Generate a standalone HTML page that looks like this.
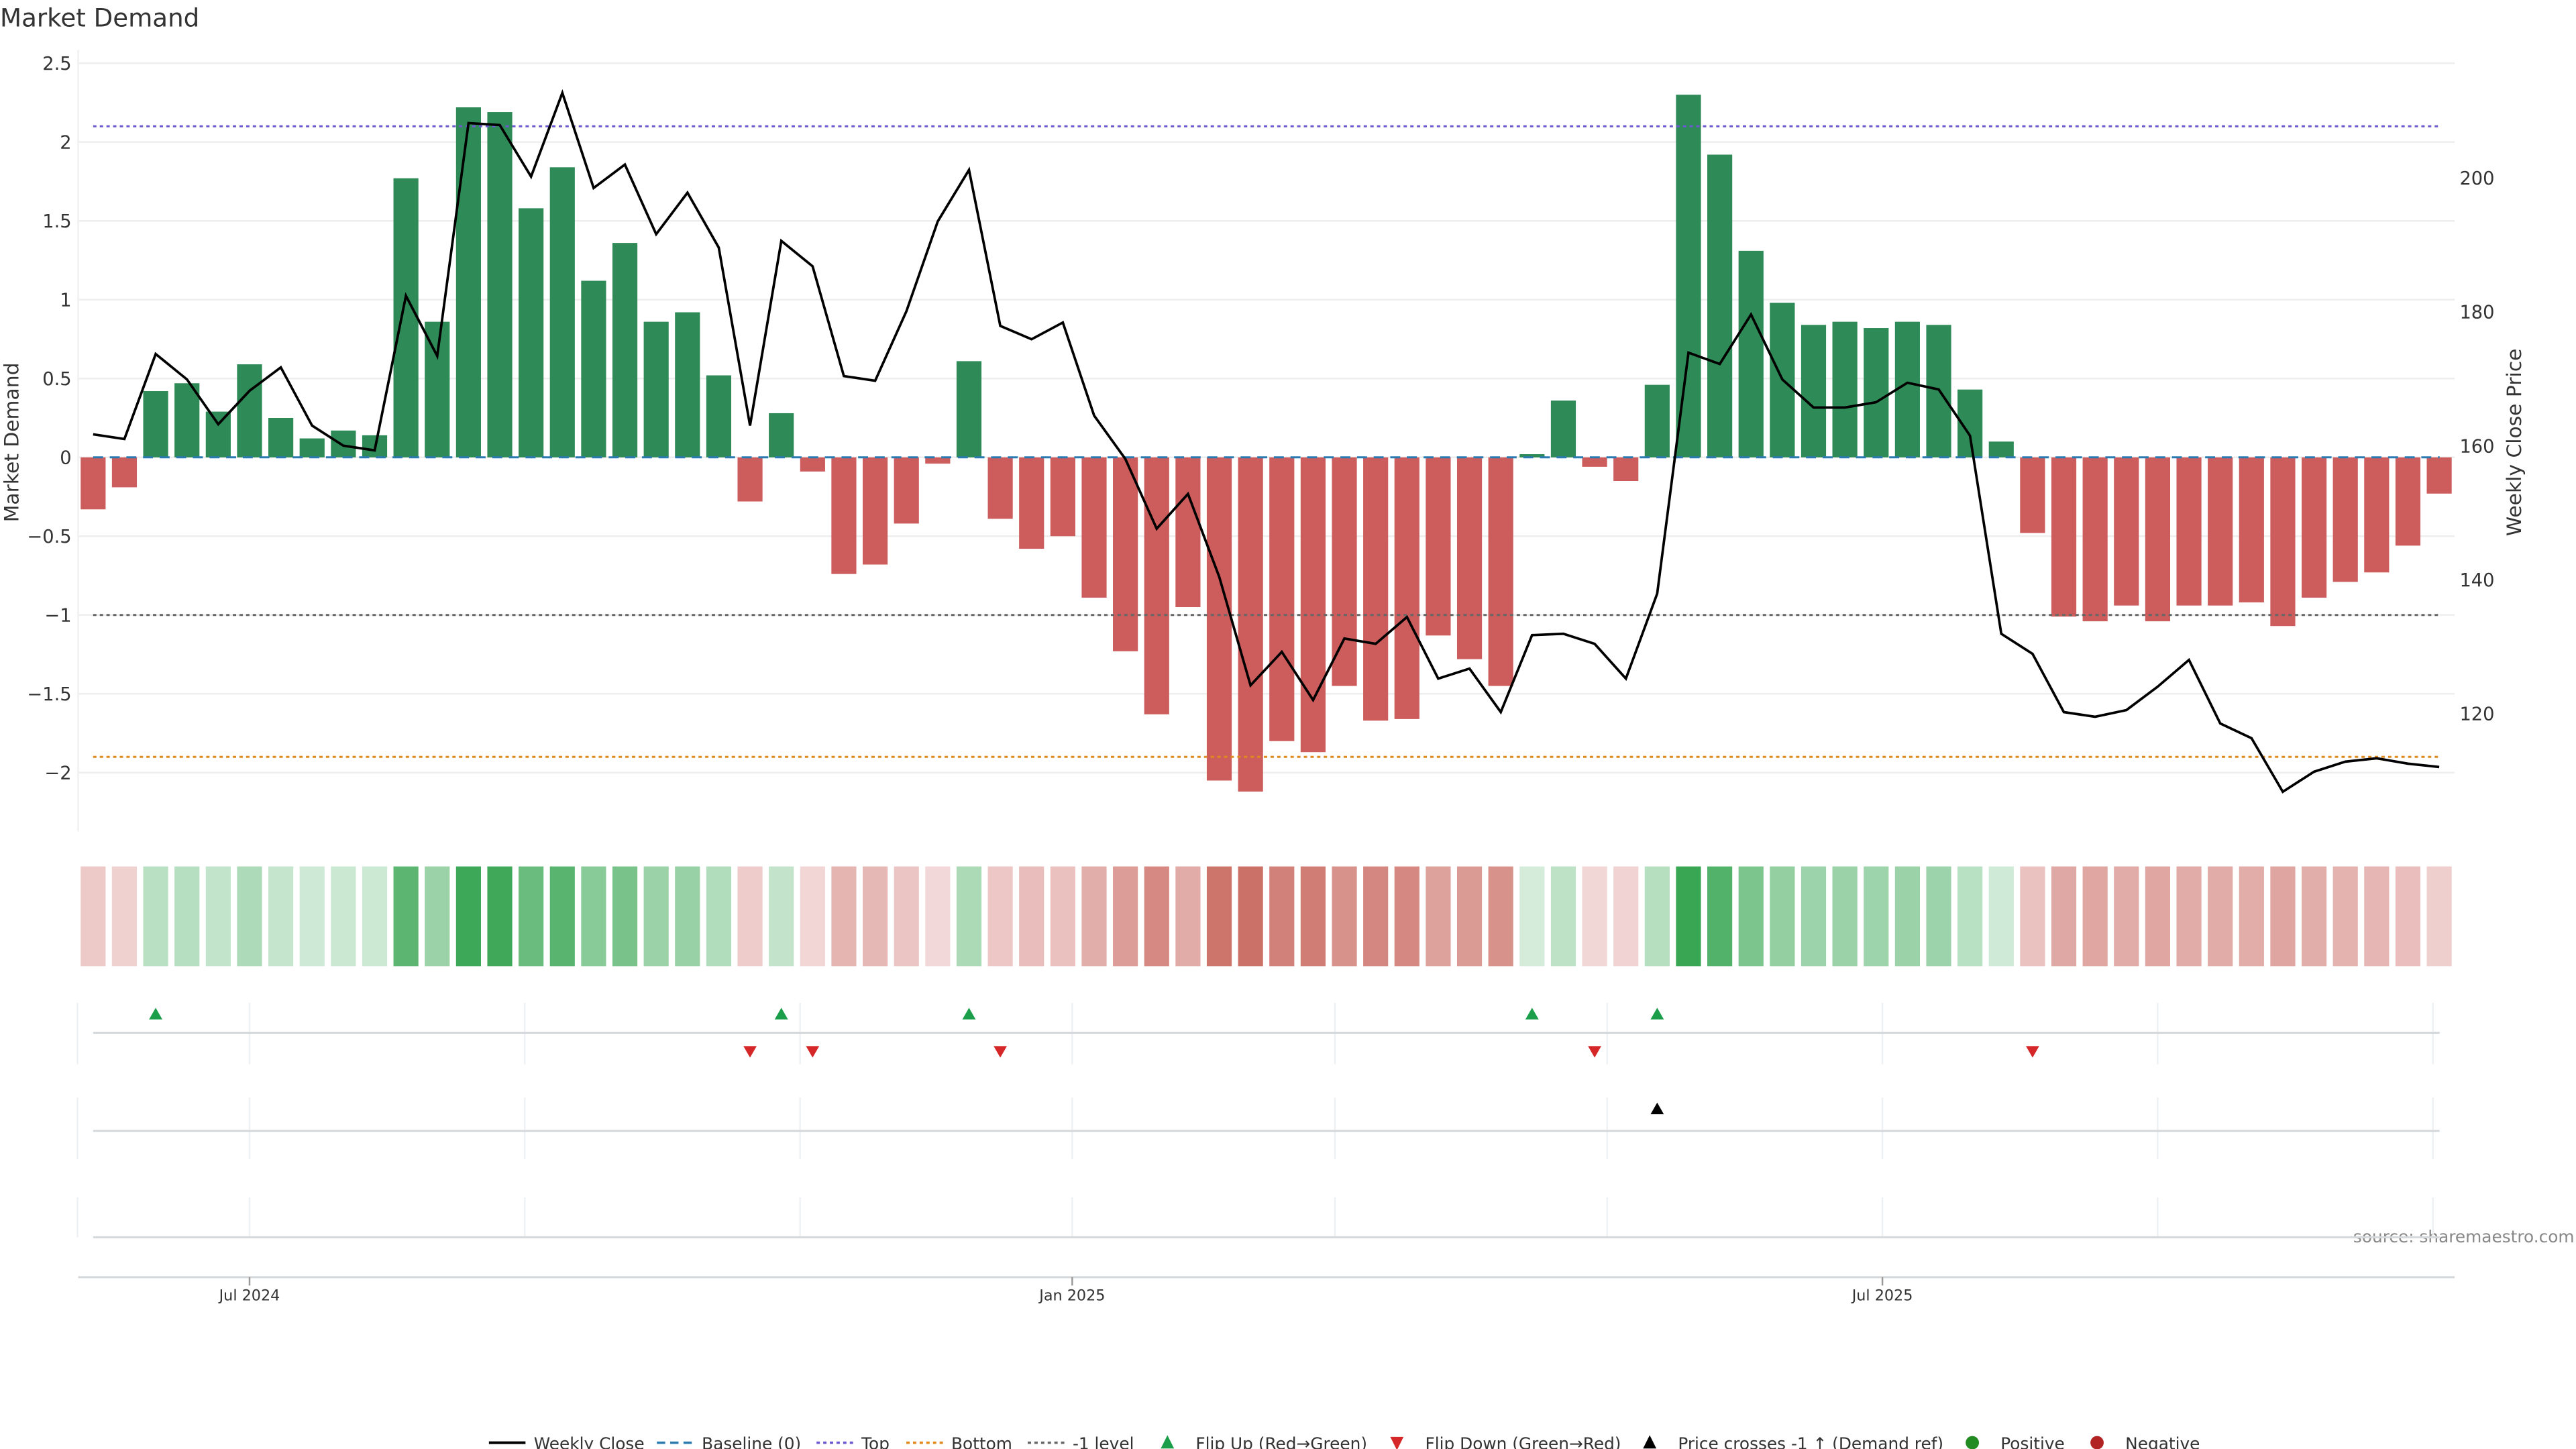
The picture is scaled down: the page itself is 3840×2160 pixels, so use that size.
<!DOCTYPE html>
<html><head><meta charset="utf-8"><style>
html,body{margin:0;padding:0;background:#fff;width:3840px;height:2160px;overflow:hidden}
svg{display:block;font-family:"DejaVu Sans","Liberation Sans",sans-serif}
</style></head><body>
<svg id="chart" width="3840" height="2160" viewBox="0 0 1549 871.3" preserveAspectRatio="none" xmlns="http://www.w3.org/2000/svg">
<text x="0" y="16" font-size="15" fill="#333">Market Demand</text>
<text transform="translate(11,266) rotate(-90)" font-size="12" fill="#333" text-anchor="middle">Market Demand</text>
<text transform="translate(1516,266) rotate(-90)" font-size="12" fill="#333" text-anchor="middle">Weekly Close Price</text>
<text x="1548" y="747" font-size="10" fill="#888" text-anchor="end">source: sharemaestro.com</text>
<g id="g"></g>
</svg>
<script>
const demand=[-0.33,-0.19,0.42,0.47,0.29,0.59,0.25,0.12,0.17,0.14,1.77,0.86,2.22,2.19,1.58,1.84,1.12,1.36,0.86,0.92,0.52,-0.28,0.28,-0.09,-0.74,-0.68,-0.42,-0.04,0.61,-0.39,-0.58,-0.50,-0.89,-1.23,-1.63,-0.95,-2.05,-2.12,-1.80,-1.87,-1.45,-1.67,-1.66,-1.13,-1.28,-1.45,0.02,0.36,-0.06,-0.15,0.46,2.30,1.92,1.31,0.98,0.84,0.86,0.82,0.86,0.84,0.43,0.10,-0.48,-1.01,-1.04,-0.94,-1.04,-0.94,-0.94,-0.92,-1.07,-0.89,-0.79,-0.73,-0.56,-0.23];
const price=[161.7,161.0,173.7,169.9,163.2,168.2,171.7,163.0,160.0,159.3,182.4,173.4,208.2,207.9,200.2,212.7,198.5,202.0,191.6,197.8,189.6,163.0,190.6,186.8,170.4,169.7,180.1,193.5,201.2,177.9,175.9,178.4,164.5,158.0,147.6,152.8,140.4,124.2,129.2,122.0,131.2,130.4,134.4,125.2,126.7,120.2,131.7,131.9,130.4,125.2,137.9,173.9,172.2,179.6,169.9,165.7,165.7,166.5,169.4,168.4,161.5,131.9,128.9,120.2,119.5,120.5,124.0,128.0,118.5,116.3,108.3,111.3,112.8,113.3,112.5,112.0];
const flipUp=[2,22,28,46,50];
const flipDown=[21,23,29,48,62];
const priceCross=[50];
const yTicks=[2.5,2,1.5,1,0.5,0,-0.5,-1,-1.5,-2];
const yTickLabels=["2.5","2","1.5","1","0.5","0","\u22120.5","\u22121","\u22121.5","\u22122"];
const y2Ticks=[120,140,160,180,200];
const xTickIdx=[5,31.3,57.2];
const xTickLabels=["Jul 2024","Jan 2025","Jul 2025"];
const refTop=2.1, refBottom=-1.9, refMinus1=-1;

const NS="http://www.w3.org/2000/svg",G=document.getElementById('g');
function el(t,a,txt){const e=document.createElementNS(NS,t);for(const k in a)e.setAttribute(k,a[k]);if(txt!==undefined)e.textContent=txt;G.appendChild(e);return e;}
const X=i=>56+i*18.81;
const Y=v=>275-v*94.8;
const Y2=p=>268-(p-160)*4.025;
const BW=15;
yTicks.forEach((v,i)=>{
 let l=el('line',{x1:47,x2:1476,y1:Y(v),y2:Y(v),stroke:'#eeeeee','stroke-width':1});
 
 
 let t=el('text',{x:43,y:Y(v)+4,'font-size':11,fill:'#333','text-anchor':'end'},yTickLabels[i]);
 
 
});
y2Ticks.forEach(p=>{
 let t=el('text',{x:1479,y:Y2(p)+4,'font-size':11,fill:'#333'},String(p));
 
 
});
let ax=el('line',{x1:47,x2:47,y1:30,y2:500,stroke:'#f0f0f0'});


demand.forEach((v,i)=>{
 let r=el('rect',{x:X(i)-BW/2,y:Math.min(Y(v),Y(0)),width:BW,height:Math.abs(Y(v)-Y(0)),fill:v>=0?'#2e8b57':'#cd5c5c'});
 
 
});
function ref(v,c,d,n){let l=el('line',{x1:56,x2:1467,y1:Y(v),y2:Y(v),stroke:c,'stroke-width':1.2,'stroke-dasharray':d});
 
 }
ref(0,'#2a7ab0','6,4','baseline-line');
ref(refTop,'#6a5acd','2,2','top-line');
ref(refMinus1,'#666','2,2','minus1-line');
ref(refBottom,'#e08a1e','2,2','bottom-line');
let pl=el('polyline',{points:price.map((p,i)=>X(i)+','+Y2(p)).join(' '),fill:'none',stroke:'#000','stroke-width':1.5});


function lerp(a,b,t){return 'rgb('+a.map((x,k)=>Math.round(x+(b[k]-x)*t)).join(',')+')';}
demand.forEach((v,i)=>{
 const t=Math.min(Math.abs(v)/2.3,1);
 const c=v>=0?lerp([214,237,220],[56,166,82],t):lerp([243,218,218],[200,104,94],t);
 let r=el('rect',{x:X(i)-BW/2,y:521,width:BW,height:60,fill:c});
 
 
});
[[603,640,621],[660,697,680],[720,744,744]].forEach(([a,b,c])=>{
 xTickIdx.concat([-0.5,13.8,22.6,39.7,48.4,66.0,74.8]).forEach(ix=>{
  let v=el('line',{x1:X(ix),x2:X(ix),y1:a,y2:b,stroke:'#eef1f4'});
  
  
 });
 let h=el('line',{x1:56,x2:1467,y1:c,y2:c,stroke:'#d5d8da','stroke-width':1.2});
 
 
});
function tri(i,y,up,c,n){const x=X(i);
 let p=el('polygon',{points:up?`${x-4},${y+3} ${x+4},${y+3} ${x},${y-4}`:`${x-4},${y-4} ${x+4},${y-4} ${x},${y+3}`,fill:c});
 
 }
flipUp.forEach(i=>tri(i,610,true,'#1a9e4a','flip-up-marker'));
flipDown.forEach(i=>tri(i,633,false,'#d62728','flip-down-marker'));
priceCross.forEach(i=>tri(i,667,true,'#000','price-cross-marker'));
let xa=el('line',{x1:47,x2:1476,y1:768,y2:768,stroke:'#d5d8da','stroke-width':1.2});


xTickIdx.forEach((ix,k)=>{
 let tk=el('line',{x1:X(ix),x2:X(ix),y1:768,y2:773,stroke:'#999'});
 
 
 let t=el('text',{x:X(ix),y:782,'font-size':9,fill:'#333','text-anchor':'middle'},xTickLabels[k]);
 
 
});
const leg=[['line','Weekly Close','#000','',294],['dash','Baseline (0)','#2a7ab0','5,3',395],['dot','Top','#6a5acd','2,2',491],['dot','Bottom','#e08a1e','2,2',545],['dot','-1 level','#666','2,2',618],['up','Flip Up (Red\u2192Green)','#1a9e4a','',697],['down','Flip Down (Green\u2192Red)','#d62728','',835],['up','Price crosses -1 \u2191 (Demand ref)','#000','',987],['dotc','Positive','#228b22','',1181],['dotc','Negative','#b22222','',1256]];
leg.forEach(([k,lab,c,d,x])=>{
 const y=868;let m;
 if(k==='line'||k==='dash'||k==='dot') m=el('line',{x1:x,x2:x+22,y1:y-0.5,y2:y-0.5,stroke:c,'stroke-width':k==='line'?1.6:1.4,'stroke-dasharray':d});
 else if(k==='up') m=el('polygon',{points:`${x+1},${y+3} ${x+9},${y+3} ${x+5},${y-5}`,fill:c});
 else if(k==='down') m=el('polygon',{points:`${x+1},${y-4} ${x+9},${y-4} ${x+5},${y+4}`,fill:c});
 else m=el('circle',{cx:x+5,cy:y-0.5,r:4,fill:c});
 
 
 const tx=(k==='up'||k==='down'||k==='dotc')?x+22:x+27;
 let t=el('text',{x:tx,y:y+3.5,'font-size':10,fill:'#333'},lab);
 
 
});
</script>
</body></html>
